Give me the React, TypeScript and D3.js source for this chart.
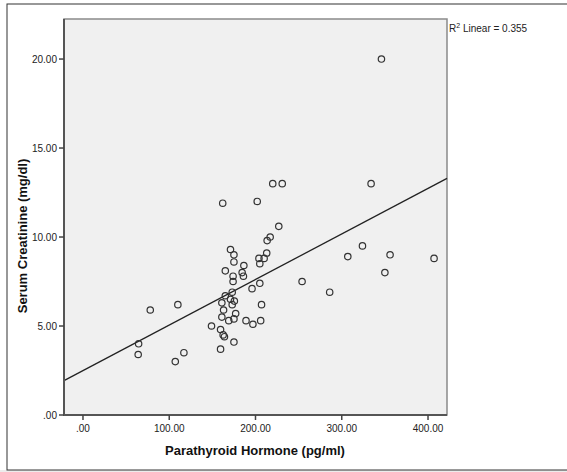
import React, { useEffect, useRef } from 'react';
import * as d3 from 'd3';

// values
const pthValues = [
  346, 220, 231, 334, 202, 162, 227, 217, 213.5, 171,
  175, 213, 204, 210, 175, 205, 186.5, 165, 184.5, 174,
  186, 174, 196, 205, 173, 165, 171, 161, 175.5, 173,
  207, 163, 177, 161, 169, 175, 189, 197, 206, 149,
  159.5, 162.5, 164, 175, 159.5, 110, 78, 64.5, 64, 117,
  107, 254, 286, 307, 324, 356, 350, 407,
];
const creatinineValues = [
  20.0, 13.0, 13.0, 13.0, 12.0, 11.9, 10.6, 10.0, 9.8, 9.3,
  9.0, 9.1, 8.8, 8.8, 8.6, 8.5, 8.4, 8.1, 8.0, 7.8,
  7.8, 7.5, 7.1, 7.4, 6.9, 6.7, 6.5, 6.3, 6.4, 6.2,
  6.2, 5.9, 5.7, 5.5, 5.3, 5.4, 5.3, 5.1, 5.3, 5.0,
  4.8, 4.5, 4.4, 4.1, 3.7, 6.2, 5.9, 4.0, 3.4, 3.5,
  3.0, 7.5, 6.9, 8.9, 9.5, 9.0, 8.0, 8.8,
];
const xTicks = [0, 100, 200, 300, 400];
const yTicks = [0, 5, 10, 15, 20];
const rSquaredLabel = '0.355';

const W = 567;
const H = 472;
const FONT = 'Arial, "Liberation Sans", sans-serif';

const fmt = (v: number) => (v === 0 ? '.00' : v.toFixed(2));

const App = () => {
  const ref = useRef<SVGSVGElement | null>(null);

  useEffect(() => {
    const svg = d3.select(ref.current);
    svg.selectAll('*').remove();

    const left = 64, right = 447, top = 19, bottom = 415;
    const x = d3.scaleLinear().domain([-22, 422]).range([left, right]);
    const y = d3.scaleLinear().domain([0, 22.25]).range([bottom, top]);

    // outer frame
    svg.append('rect').attr('x', 0).attr('y', 0).attr('width', W).attr('height', H).attr('fill', '#fff');
    svg.append('rect').attr('x', 0).attr('y', 470).attr('width', W).attr('height', 2).attr('fill', '#ececec');
    svg.append('rect')
      .attr('x', 7).attr('y', 4).attr('width', W).attr('height', 466)
      .attr('fill', 'none').attr('stroke', '#333').attr('stroke-width', 1);

    // plot panel
    svg.append('rect')
      .attr('x', left).attr('y', top).attr('width', right - left).attr('height', bottom - top)
      .attr('fill', '#f0f0f0').attr('stroke', '#8a8a8a').attr('stroke-width', 1.5);

    // regression line
    const mx = d3.mean(pthValues) as number;
    const my = d3.mean(creatinineValues) as number;
    let sxy = 0, sxx = 0;
    pthValues.forEach((v, i) => {
      sxy += (v - mx) * (creatinineValues[i] - my);
      sxx += (v - mx) * (v - mx);
    });
    const slope = sxy / sxx;
    const intercept = my - slope * mx;
    const [x0, x1] = x.domain();
    svg.append('line')
      .attr('x1', x(x0)).attr('y1', y(intercept + slope * x0))
      .attr('x2', x(x1)).attr('y2', y(intercept + slope * x1))
      .attr('stroke', '#222').attr('stroke-width', 1.3);

    // points
    svg.append('g')
      .selectAll('circle')
      .data(pthValues)
      .join('circle')
      .attr('cx', d => x(d))
      .attr('cy', (_, i) => y(creatinineValues[i]))
      .attr('r', 3.2)
      .attr('fill', 'none')
      .attr('stroke', '#333')
      .attr('stroke-width', 1.2);

    // axes lines
    svg.append('line').attr('x1', left).attr('x2', left).attr('y1', top).attr('y2', bottom + 1)
      .attr('stroke', '#555').attr('stroke-width', 2);
    svg.append('line').attr('x1', left - 1).attr('x2', right).attr('y1', bottom).attr('y2', bottom)
      .attr('stroke', '#555').attr('stroke-width', 2);

    // y ticks
    const yt = svg.append('g');
    yt.selectAll('line').data(yTicks).join('line')
      .attr('x1', left - 5).attr('x2', left).attr('y1', d => y(d)).attr('y2', d => y(d))
      .attr('stroke', '#444').attr('stroke-width', 1.5);
    yt.selectAll('text').data(yTicks).join('text')
      .attr('x', left - 7).attr('y', d => y(d)).attr('dy', '0.35em')
      .attr('text-anchor', 'end').attr('font-size', 10).attr('font-family', FONT)
      .attr('fill', '#222').text(d => fmt(d));

    // x ticks
    const xt = svg.append('g');
    xt.selectAll('line').data(xTicks).join('line')
      .attr('x1', d => x(d)).attr('x2', d => x(d)).attr('y1', bottom).attr('y2', bottom + 5)
      .attr('stroke', '#444').attr('stroke-width', 1.5);
    xt.selectAll('text').data(xTicks).join('text')
      .attr('x', d => x(d)).attr('y', 432)
      .attr('text-anchor', 'middle').attr('font-size', 10).attr('font-family', FONT)
      .attr('fill', '#222').text(d => fmt(d));

    // titles
    svg.append('text')
      .attr('x', 255).attr('y', 455).attr('text-anchor', 'middle')
      .attr('font-size', 13).attr('font-weight', 'bold').attr('font-family', FONT)
      .attr('fill', '#111').text('Parathyroid Hormone (pg/ml)');
    svg.append('text')
      .attr('transform', 'translate(27,236) rotate(-90)').attr('text-anchor', 'middle')
      .attr('font-size', 13).attr('font-weight', 'bold').attr('font-family', FONT)
      .attr('fill', '#111').text('Serum Creatinine (mg/dl)');

    // R² label
    const r2 = svg.append('text')
      .attr('x', 449).attr('y', 32)
      .attr('font-size', 10).attr('font-family', FONT).attr('fill', '#222');
    r2.append('tspan').text('R');
    r2.append('tspan').attr('font-size', 7).attr('dy', -4).text('2');
    r2.append('tspan').attr('dy', 4).text(` Linear = ${rSquaredLabel}`);
  }, []);

  return (
    <svg
      ref={ref}
      width={W}
      height={H}
      style={{ position: 'absolute', left: 0, top: 0 }}
    />
  );
};

export default App;
